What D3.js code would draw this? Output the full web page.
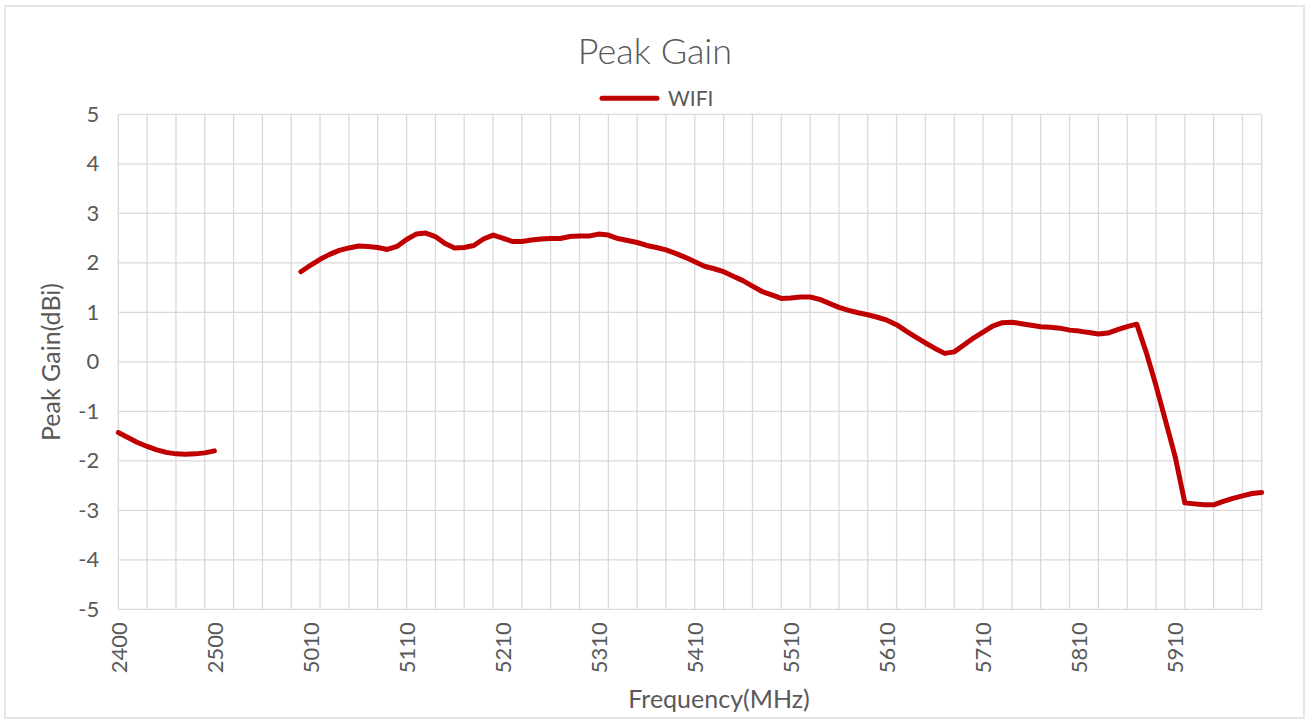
<!DOCTYPE html>
<html>
<head>
<meta charset="utf-8">
<script src="https://cdn.jsdelivr.net/npm/d3@7"></script>
<style>
  body { margin: 0; background: #fff; }
  text { font-family: Lato, "Noto Sans", sans-serif; fill: #595959; }
</style>
</head>
<body>
<script>
// 2.4 GHz band
let freq24 = [2400, 2410, 2420, 2430, 2440, 2450, 2460, 2470, 2480, 2490, 2500]
let gain24 = [-1.43, -1.53, -1.63, -1.71, -1.78, -1.83, -1.86, -1.87, -1.86, -1.84, -1.80]
// empty rows between the two bands
let gapRows = ["", "", "", "", "", "", "", ""]
// 5 GHz band
let freq5 = [5000, 5010, 5020, 5030, 5040, 5050, 5060, 5070, 5080, 5090,
    5100, 5110, 5120, 5130, 5140, 5150, 5160, 5170, 5180, 5190,
    5200, 5210, 5220, 5230, 5240, 5250, 5260, 5270, 5280, 5290,
    5300, 5310, 5320, 5330, 5340, 5350, 5360, 5370, 5380, 5390,
    5400, 5410, 5420, 5430, 5440, 5450, 5460, 5470, 5480, 5490,
    5500, 5510, 5520, 5530, 5540, 5550, 5560, 5570, 5580, 5590,
    5600, 5610, 5620, 5630, 5640, 5650, 5660, 5670, 5680, 5690,
    5700, 5710, 5720, 5730, 5740, 5750, 5760, 5770, 5780, 5790,
    5800, 5810, 5820, 5830, 5840, 5850, 5860, 5870, 5880, 5890,
    5900, 5910, 5920, 5930, 5940, 5950, 5960, 5970, 5980, 5990, 6000]
let gain5 = [1.82, 1.95, 2.07, 2.17, 2.25, 2.30, 2.34, 2.33, 2.31, 2.27,
    2.33, 2.47, 2.58, 2.60, 2.53, 2.39, 2.30, 2.31, 2.35, 2.48,
    2.56, 2.50, 2.43, 2.43, 2.46, 2.48, 2.49, 2.49, 2.53, 2.54,
    2.54, 2.58, 2.56, 2.49, 2.45, 2.41, 2.35, 2.31, 2.26, 2.19,
    2.11, 2.02, 1.93, 1.88, 1.82, 1.73, 1.64, 1.53, 1.42, 1.35,
    1.28, 1.29, 1.31, 1.31, 1.26, 1.18, 1.10, 1.04, 0.99, 0.95,
    0.90, 0.84, 0.75, 0.62, 0.50, 0.38, 0.27, 0.17, 0.20, 0.34,
    0.48, 0.60, 0.72, 0.79, 0.80, 0.77, 0.74, 0.71, 0.70, 0.68,
    0.64, 0.62, 0.59, 0.56, 0.58, 0.65, 0.71, 0.76, 0.18, -0.48,
    -1.20, -1.92, -2.85, -2.87, -2.89, -2.89, -2.82, -2.76, -2.71, -2.66, -2.64]
let yTicks = [-5, -4, -3, -2, -1, 0, 1, 2, 3, 4, 5]
let seriesName = "WIFI"

let cats = freq24.concat(gapRows, freq5)
let values = gain24.concat(gapRows.map(() => null), gain5)

let w = 1307
let h = 719
let pLeft = 118.3, pRight = 1261.7, pTop = 114.3, pBottom = 609.3

let svg = d3.select("body")
    .append("svg")
    .attr("width", w)
    .attr("height", h)

// chart border
svg.append("rect")
    .attr("x", 5).attr("y", 6)
    .attr("width", 1299).attr("height", 712)
    .attr("fill", "#fff")
    .attr("stroke", "#d9d9d9")
    .attr("stroke-width", 1.3)

let xScale = d3.scalePoint()
    .domain(d3.range(cats.length))
    .range([pLeft, pRight])
let yScale = d3.scaleLinear()
    .domain([-5, 5])
    .range([pBottom, pTop])

// gridlines
let vIdx = d3.range(cats.length).filter(i => i % 3 == 0 || i == cats.length - 1)
svg.append("g").selectAll("line")
    .data(vIdx)
    .enter()
    .append("line")
    .attr("x1", d => xScale(d)).attr("x2", d => xScale(d))
    .attr("y1", pTop).attr("y2", pBottom)
    .attr("stroke", "#d9d9d9")
    .attr("stroke-width", 1.3)
svg.append("g").selectAll("line")
    .data(yTicks)
    .enter()
    .append("line")
    .attr("x1", pLeft).attr("x2", pRight)
    .attr("y1", d => yScale(d)).attr("y2", d => yScale(d))
    .attr("stroke", "#d9d9d9")
    .attr("stroke-width", 1.3)

// y axis labels
let yAxis = d3.axisLeft(yScale).tickValues(yTicks).tickSize(0).tickPadding(19)
let gy = svg.append("g").attr("transform", `translate(${pLeft},0)`).call(yAxis)
gy.select(".domain").remove()
gy.selectAll("text")
    .style("font-size", "22px")
    .attr("fill", "#595959")
    .text(d => d < 0 ? "-" + Math.abs(d) : d)

// x axis labels, every 10th category
let xAxis = d3.axisBottom(xScale)
    .tickValues(d3.range(0, cats.length, 10))
    .tickFormat(i => cats[i])
    .tickSize(0)
let gx = svg.append("g").attr("transform", `translate(0,${pBottom})`).call(xAxis)
gx.select(".domain").remove()
gx.selectAll("text")
    .style("font-size", "22px")
    .attr("fill", "#595959")
    .attr("text-anchor", "end")
    .attr("y", 0).attr("dy", "0.35em")
    .attr("transform", "translate(0,13) rotate(-90)")

// series
let line = d3.line()
    .defined(d => d != null)
    .x((d, i) => xScale(i))
    .y(d => yScale(d))
svg.append("path")
    .datum(values)
    .attr("d", line)
    .attr("fill", "none")
    .attr("stroke", "#c00000")
    .attr("stroke-width", 5)
    .attr("stroke-linejoin", "round")
    .attr("stroke-linecap", "round")

// title
svg.append("text")
    .attr("x", 655).attr("y", 64)
    .attr("text-anchor", "middle")
    .style("font-size", "36px")
    .style("font-weight", 300)
    .text("Peak Gain")

// legend
svg.append("line")
    .attr("x1", 602).attr("x2", 657)
    .attr("y1", 98.3).attr("y2", 98.3)
    .attr("stroke", "#c00000")
    .attr("stroke-width", 5)
    .attr("stroke-linecap", "round")
svg.append("text")
    .attr("x", 668).attr("y", 106)
    .style("font-size", "21px")
    .text(seriesName)

// axis titles
svg.append("text")
    .attr("x", 719).attr("y", 708)
    .attr("text-anchor", "middle")
    .style("font-size", "25px")
    .text("Frequency(MHz)")
svg.append("text")
    .attr("transform", "translate(60,362) rotate(-90)")
    .attr("text-anchor", "middle")
    .style("font-size", "25px")
    .text("Peak Gain(dBi)")
</script>
</body>
</html>
